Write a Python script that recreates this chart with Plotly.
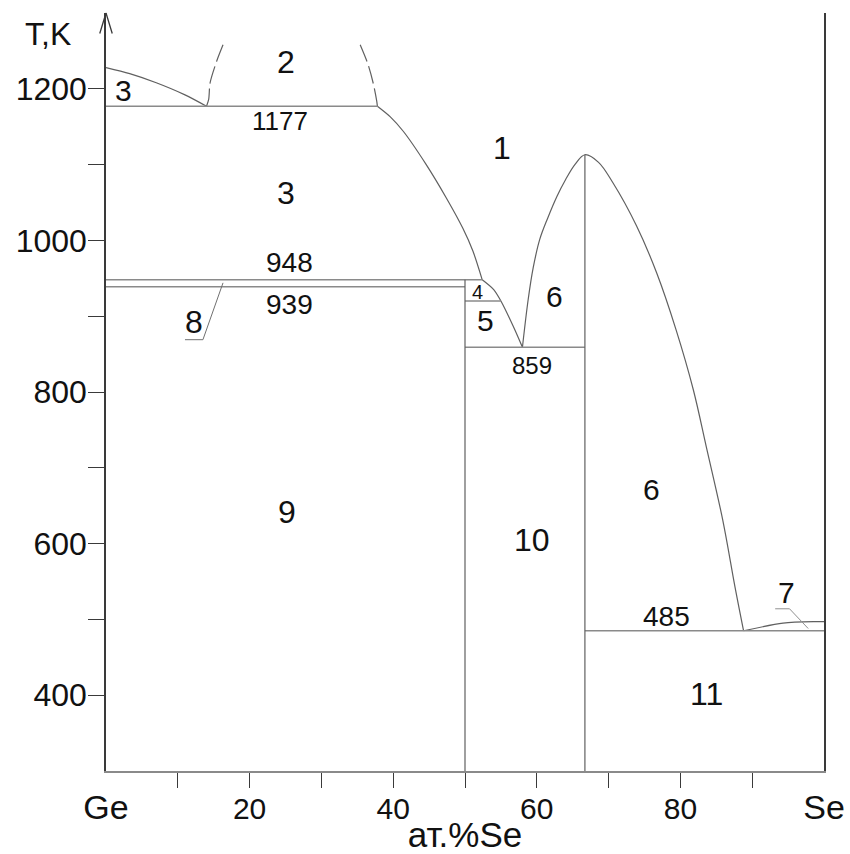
import plotly.graph_objects as go

# ---------------- data (at.% Se, temperature K) ----------------
liq_ge_x = [0, 3.3, 7.0, 11.0, 14.0]
liq_ge_t = [1228, 1220, 1208, 1192, 1177]

gap_left_x = [14.0, 14.3, 14.5, 15.4, 16.3]
gap_left_t = [1177, 1186, 1208, 1236, 1258]
gap_right_x = [37.8, 37.7, 37.2, 36.5, 35.4]
gap_right_t = [1177, 1184, 1208, 1232, 1258]

liq_mid_x = [37.8, 39.6, 41.4, 44.6, 47.4, 49.7, 51.1, 52.4]
liq_mid_t = [1177, 1163, 1144, 1100, 1056, 1016, 986, 948]

liq_eut_x = [52.4, 54.0, 55.0, 56.7, 58.0]
liq_eut_t = [948, 935, 920, 887, 859]

liq_gese2_x = [58.0, 58.8, 59.5, 60.4, 61.5, 62.8, 64.0, 65.3, 66.7, 68.6, 70.6,
               73.9, 76.7, 79.4, 81.8, 83.6, 85.9, 87.6, 88.8]
liq_gese2_t = [859, 922, 964, 1001, 1029, 1058, 1080, 1100, 1113, 1103, 1076,
               1019, 957, 882, 803, 728, 631, 543, 485]

liq_se_x = [88.8, 94.3, 98.7, 100]
liq_se_t = [485, 495, 497, 497]

# isotherms: (T, x_start, x_end)
isotherms = [(1177, 0, 37.8), (948, 0, 52.4), (939, 0, 50.0),
             (920, 50.0, 55.0), (859, 50.0, 66.7), (485, 66.7, 100)]
# compound verticals: (x, T_top)
compounds = [(50.0, 948), (66.7, 1113)]

T_MIN, T_MAX = 300, 1300

lead8_x = [11.0, 13.5, 16.3]
lead8_t = [869, 869, 944]
lead7_x = [93.2, 95.2, 97.8]
lead7_t = [514, 514, 488]

# labels: text, x, T, font size
labels = [
    ("3", 2.5, 1198, 30), ("2", 25.1, 1236, 32), ("1177", 24.3, 1158, 26),
    ("1", 55.1, 1122, 32), ("3", 25.1, 1063, 32), ("948", 25.5, 971, 28),
    ("939", 25.5, 916, 28), ("8", 12.2, 893, 32), ("4", 51.7, 932, 20),
    ("5", 52.9, 894, 30), ("6", 62.4, 926, 30), ("859", 59.4, 835, 24),
    ("9", 25.2, 642, 32), ("10", 59.4, 605, 32), ("6", 76.0, 672, 30),
    ("485", 78.0, 504, 28), ("7", 94.8, 536, 30), ("11", 83.7, 401, 32),
]

x_label_vals = [0, 20, 40, 60, 80, 100]
x_label_text = ["<span style='font-size:34px'>Ge</span>", "20", "40", "60", "80",
                "<span style='font-size:34px'>Se</span>"]
x_minor_vals = [10, 20, 30, 40, 50, 60, 70, 80, 90]
y_label_vals = [400, 600, 800, 1000, 1200]
y_minor_vals = [500, 700, 900, 1100]

FONT = "Liberation Sans, Arial, sans-serif"
CURVE = "#606060"
ISO = "#8a8a8a"
AX = "#3a3a3a"

fig = go.Figure()

def add_line(x, y, color=CURVE, width=1.2, dash=None, shape="spline", smooth=0.8):
    line = dict(color=color, width=width, dash=dash, shape=shape)
    if shape == "spline":
        line["smoothing"] = smooth
    fig.add_trace(go.Scatter(x=x, y=y, mode="lines", showlegend=False,
                             hoverinfo="skip", line=line))

add_line(liq_ge_x, liq_ge_t)
add_line(gap_left_x, gap_left_t, dash="18px,5px")
add_line(gap_right_x, gap_right_t, dash="18px,5px")
add_line(liq_mid_x, liq_mid_t)
add_line(liq_eut_x, liq_eut_t)
add_line(liq_gese2_x, liq_gese2_t, smooth=1.0)
add_line(liq_se_x, liq_se_t)

for T, xa, xb in isotherms:
    add_line([xa, xb], [T, T], color=ISO, width=1.5, shape="linear")
for xc, tt in compounds:
    add_line([xc, xc], [T_MIN, tt], color=CURVE, width=1.2, shape="linear")

add_line(lead8_x, lead8_t, color="#707070", width=1, shape="linear")
add_line(lead7_x, lead7_t, color="#909090", width=1, shape="linear")

for txt, xx, tt, sz in labels:
    fig.add_annotation(x=xx, y=tt, text=txt, showarrow=False,
                       xanchor="center", yanchor="middle",
                       font=dict(family=FONT, size=sz, color="#111"))

# axis title for temperature and open arrow head on the T axis
fig.add_annotation(xref="paper", yref="paper", x=-0.081, y=0.972, text="T,K",
                   showarrow=False, xanchor="center", yanchor="middle",
                   font=dict(family=FONT, size=32, color="#111"))
for ax_off in (-6.7, 6.7):
    fig.add_annotation(xref="paper", yref="paper", x=0, y=1, text="",
                       showarrow=True, arrowhead=0, arrowwidth=1.3,
                       arrowcolor=AX, ax=ax_off, ay=22, standoff=0)

fig.update_layout(
    width=850, height=854,
    margin=dict(l=106, r=25.7, t=13.3, b=83, autoexpand=False),
    paper_bgcolor="white", plot_bgcolor="white",
    font=dict(family=FONT, color="#111"),
    xaxis=dict(range=[0, 100], showgrid=False, zeroline=False,
               showline=True, linecolor="#8a8a8a", linewidth=2,
               tickvals=x_label_vals, ticktext=x_label_text,
               ticks="outside", ticklen=10, tickcolor="rgba(0,0,0,0)",
               tickfont=dict(family=FONT, size=30, color="#111"),
               minor=dict(tickvals=x_minor_vals, ticks="outside", ticklen=15,
                          tickcolor=AX, tickwidth=1),
               title=dict(text="ат.%Se", standoff=3,
                          font=dict(family=FONT, size=35, color="#111"))),
    yaxis=dict(range=[T_MIN, T_MAX], showgrid=False, zeroline=False,
               showline=True, linecolor=AX, linewidth=1.5, mirror=True,
               tickvals=y_label_vals, ticks="outside", ticklen=16,
               tickcolor=AX, tickwidth=1, ticklabelstandoff=-5,
               tickfont=dict(family=FONT, size=32, color="#111"),
               minor=dict(tickvals=y_minor_vals, ticks="outside", ticklen=16,
                          tickcolor=AX, tickwidth=1)),
)

fig.write_html("out.html")
